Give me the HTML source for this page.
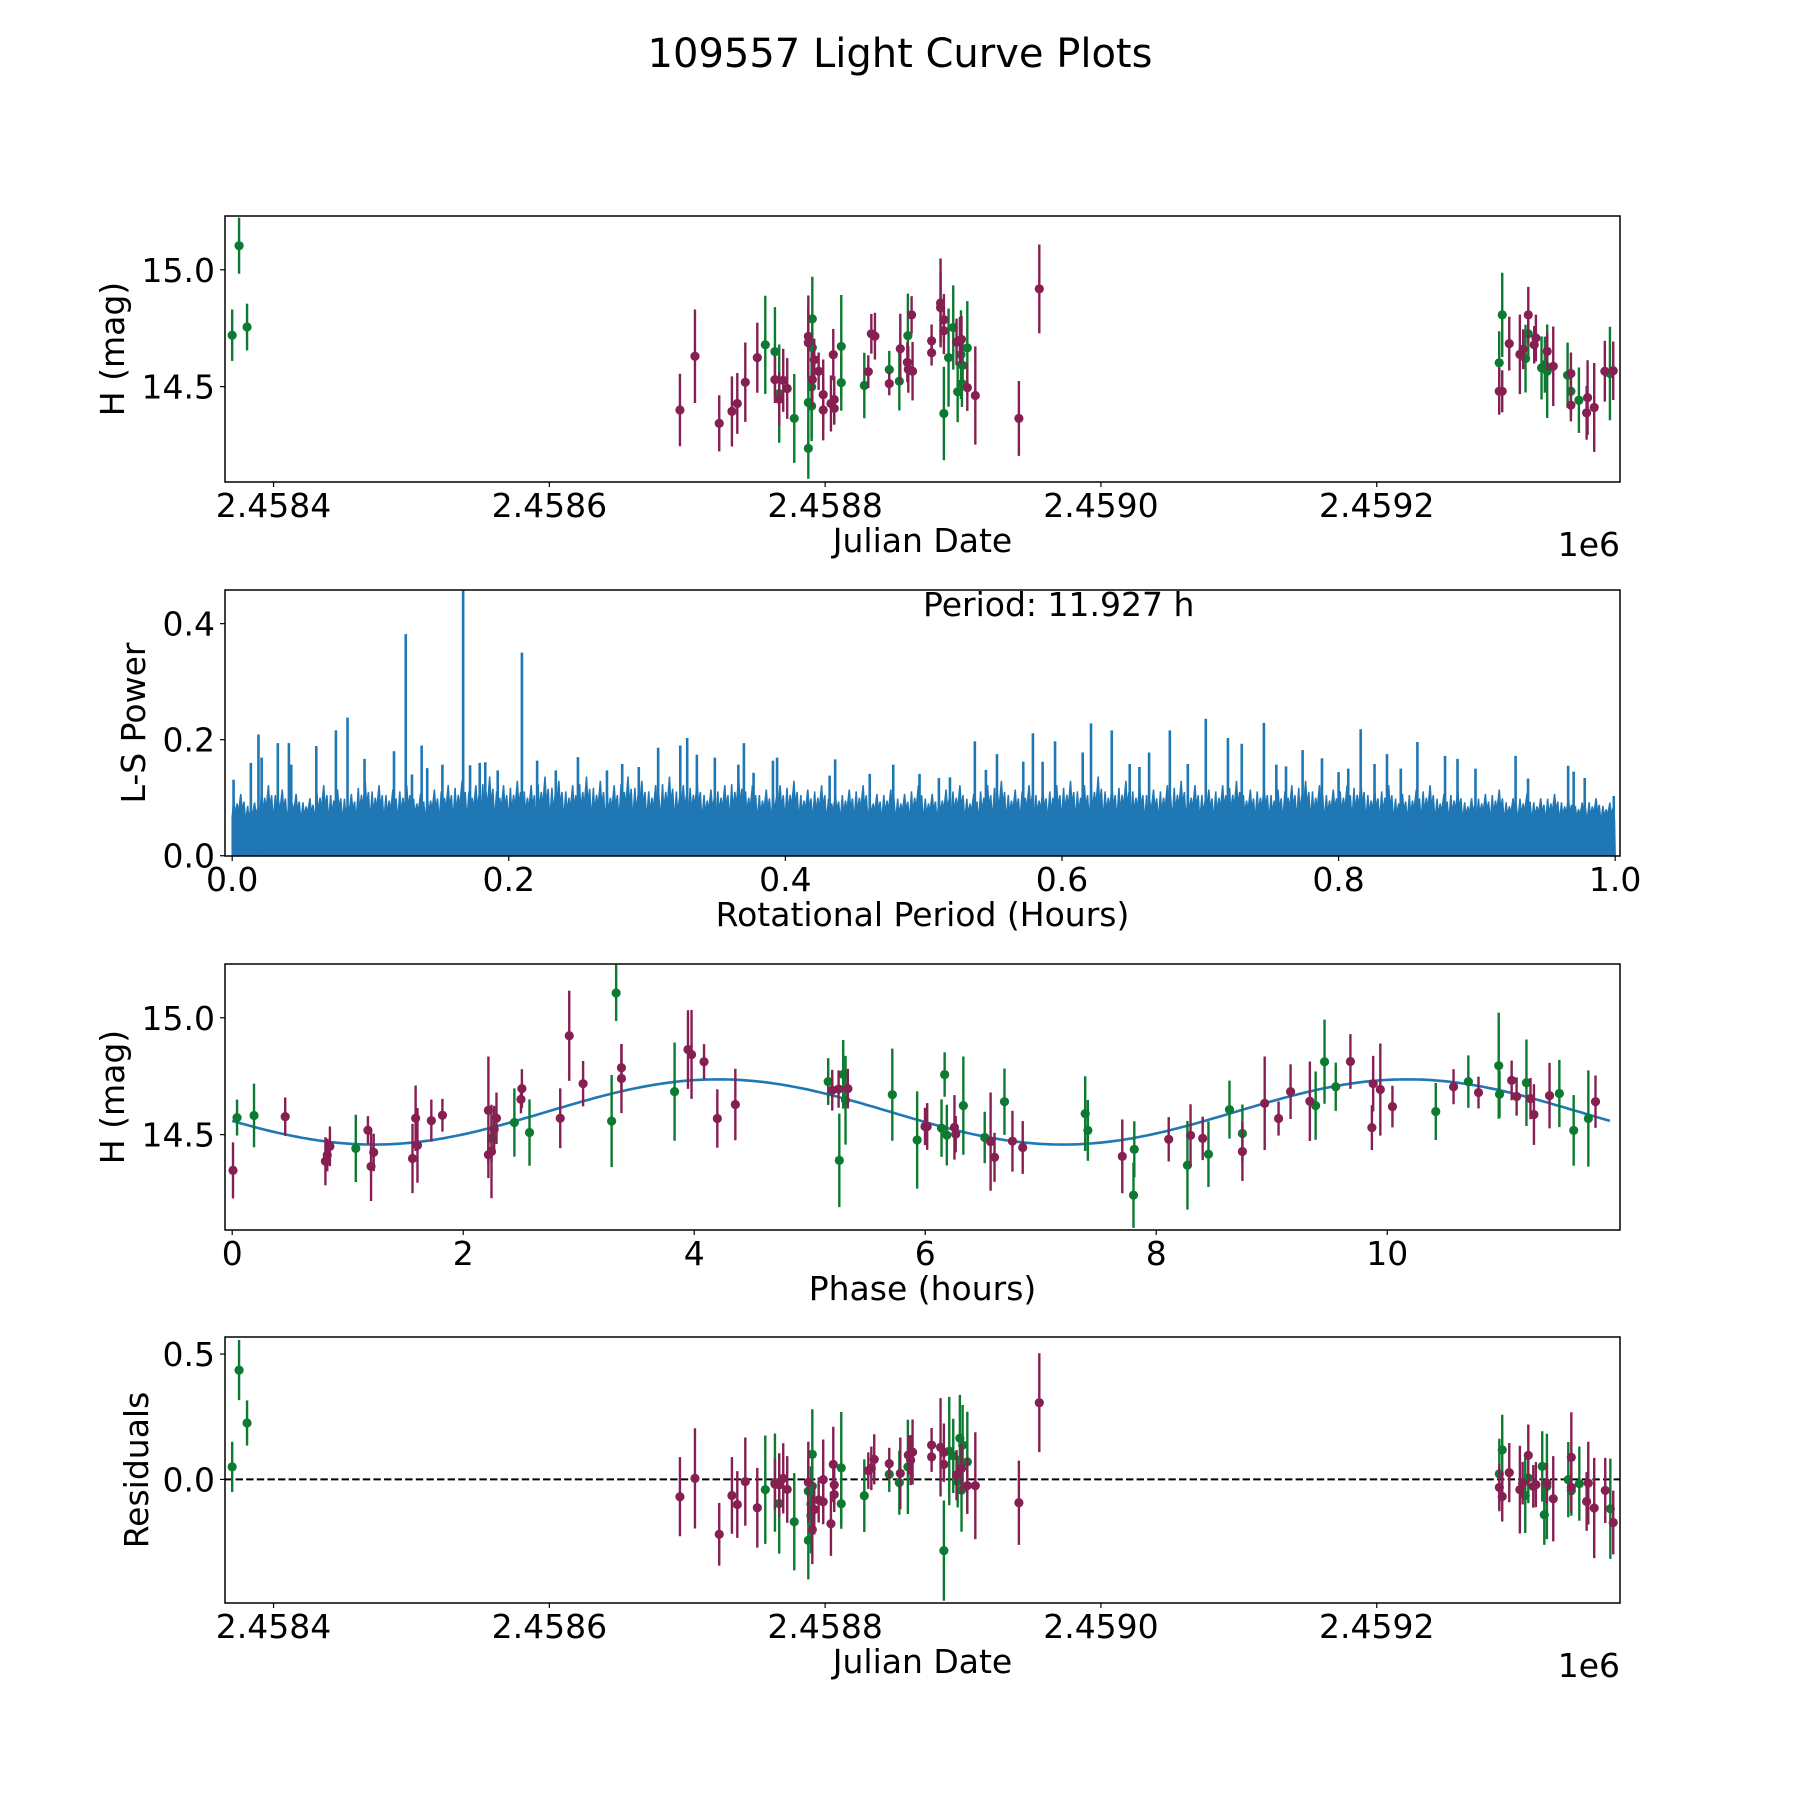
<!DOCTYPE html>
<html><head><meta charset="utf-8"><title>109557 Light Curve Plots</title>
<style>
html,body{margin:0;padding:0;background:#fff;}
svg{display:block;font-family:"DejaVu Sans","Liberation Sans",sans-serif;}
</style></head>
<body>
<svg id="fig" width="1800" height="1800" viewBox="0 0 1800 1800" xmlns="http://www.w3.org/2000/svg">
<rect x="0" y="0" width="1800" height="1800" fill="#fff"/>
<text x="900" y="67" text-anchor="middle" font-size="40" fill="#000">109557 Light Curve Plots</text>
</svg>
<script>
// ===== Panel 1: light curve vs Julian Date (day offset from 2458000) =====
const topDay=[370,375,380.8,
694.7,705.6,723.2,732.4,736.3,742.1,750.8,756.6,763.6,763.6,766.7,766.7,769.6,772.5,777.6,787.8,787.8,787.8,787.8,790.7,790.7,790.7,790.2,790.2,792.1,795.3,798.6,798.6,805.9,804.2,806.6,806.6,811.7,811.7,828.4,831.3,833.5,836.1,846.5,846.5,853.8,854.5,859.6,860.0,860.3,862.7,863.4,877.2,877.2,883.7,883.7,886.1,886.1,886.1,889.5,892.9,895.3,896.1,897.7,898.9,898.5,899.7,899.2,903.1,903.1,908.9,940.5,955.3,
1288.8,1288.8,1291.0,1291.0,1296.1,1303.8,1306.2,1307.9,1309.9,1309.9,1314.2,1315.4,1319.5,1321.9,1323.6,1323.6,1328.0,1338.4,1340.8,1340.8,1340.8,1346.6,1352.2,1352.9,1357.7,1365.4,1369.1,1371.5];
const topH=[14.72,15.103,14.755,
14.40,14.63,14.343,14.394,14.428,14.519,14.624,14.679,14.65,14.53,14.47,14.446,14.527,14.492,14.364,14.715,14.688,14.432,14.236,14.79,14.667,14.53,14.499,14.417,14.615,14.566,14.466,14.40,14.637,14.428,14.445,14.407,14.672,14.517,14.505,14.564,14.726,14.716,14.513,14.573,14.523,14.662,14.604,14.718,14.574,14.807,14.566,14.696,14.645,14.858,14.838,14.786,14.739,14.385,14.624,14.753,14.691,14.478,14.698,14.702,14.637,14.591,14.513,14.666,14.496,14.462,14.364,14.918,
14.602,14.48,14.48,14.807,14.684,14.638,14.66,14.62,14.807,14.726,14.679,14.708,14.58,14.594,14.566,14.651,14.587,14.549,14.556,14.48,14.421,14.442,14.388,14.453,14.411,14.566,14.556,14.568];
const topErr=[0.11,0.12,0.1,
0.155,0.2,0.12,0.15,0.13,0.17,0.15,0.21,0.19,0.1,0.21,0.115,0.135,0.13,0.19,0.175,0.15,0.18,0.13,0.18,0.14,0.12,0.22,0.15,0.09,0.08,0.15,0.13,0.11,0.12,0.1,0.07,0.22,0.12,0.14,0.07,0.085,0.1,0.05,0.08,0.125,0.15,0.085,0.18,0.1,0.08,0.125,0.07,0.055,0.19,0.15,0.11,0.1,0.2,0.21,0.18,0.1,0.13,0.1,0.1,0.19,0.1,0.1,0.2,0.1,0.21,0.16,0.19,
0.135,0.1,0.09,0.18,0.115,0.17,0.085,0.145,0.12,0.1,0.08,0.1,0.135,0.12,0.2,0.08,0.17,0.14,0.09,0.1,0.07,0.14,0.115,0.16,0.19,0.13,0.2,0.125];
const topBand=['g','g','g',
'm','m','m','m','m','m','m','g','g','m','g','m','m','m','g','m','m','g','g','g','g','m','g','g','m','m','m','m','m','m','m','m','g','g','g','m','m','m','m','g','g','m','m','g','m','m','m','m','m','m','m','m','m','g','g','g','m','g','m','m','g','g','g','g','m','m','m','m',
'g','m','m','g','m','m','m','g','m','g','m','m','g','g','g','m','m','g','m','g','m','g','m','m','m','m','g','m'];

// ===== Panel 2: Lomb-Scargle periodogram =====
const lsBaseline=0.057;
const lsEnvelope=[0.09,0.08,0.1,0.095,0.09,0.085,0.1,0.095,0.09,0.105,0.1,0.095,0.1,0.09,0.095,0.1,0.105,0.1,0.11,0.1,0.105,0.1,0.11,0.105,0.1,0.11,0.105,0.1,0.11,0.105,0.1,0.11,0.1,0.105,0.095,0.1,0.11,0.1,0.095,0.1,0.105,0.095,0.1,0.09,0.095,0.1,0.09,0.095,0.09,0.1,0.09,0.095,0.1,0.09,0.1,0.105,0.095,0.1,0.095,0.1,0.105,0.1,0.11,0.1,0.105,0.1,0.095,0.1,0.105,0.1,0.095,0.1,0.105,0.095,0.1,0.095,0.1,0.105,0.1,0.095,0.1,0.105,0.095,0.1,0.09,0.095,0.1,0.09,0.095,0.085,0.09,0.095,0.085,0.09,0.085,0.09,0.085,0.08,0.085,0.08];
const spikePeriod=[0.001,0.0135,0.019,0.0213,0.033,0.041,0.0427,0.0608,0.075,0.0834,0.0957,0.117,0.1255,0.13,0.137,0.141,0.152,0.167,0.172,0.179,0.183,0.192,0.2095,0.2205,0.234,0.25,0.271,0.282,0.294,0.308,0.324,0.329,0.336,0.349,0.366,0.37,0.377,0.391,0.394,0.432,0.436,0.461,0.478,0.497,
0.511,0.519,0.537,0.545,0.553,0.572,0.579,0.586,0.595,0.615,0.621,0.636,0.649,0.656,0.663,0.678,0.691,0.704,0.72,0.73,0.746,0.755,0.762,0.774,0.788,0.8,0.807,0.816,0.826,0.835,0.845,0.857,0.877,0.886,0.899,0.928,0.937,0.966,0.97,0.978,0.999];
const spikePower=[0.131,0.16,0.209,0.169,0.194,0.194,0.157,0.189,0.216,0.238,0.167,0.18,0.382,0.14,0.19,0.151,0.157,0.5,0.156,0.16,0.161,0.147,0.35,0.164,0.147,0.17,0.147,0.158,0.153,0.186,0.19,0.203,0.174,0.169,0.157,0.194,0.143,0.164,0.169,0.138,0.166,0.141,0.157,0.141,
0.134,0.135,0.197,0.148,0.175,0.162,0.211,0.162,0.197,0.178,0.228,0.216,0.158,0.153,0.178,0.216,0.158,0.236,0.203,0.193,0.229,0.157,0.154,0.182,0.168,0.144,0.15,0.218,0.158,0.175,0.15,0.196,0.172,0.167,0.15,0.172,0.133,0.155,0.145,0.134,0.103];
const bestPeriodHours=11.927;

// ===== Panel 3: phase-folded light curve =====
const phaseHr=[0.007,0.042,0.189,0.459,0.807,0.823,0.846,1.07,1.175,1.202,1.225,1.561,1.588,1.604,1.724,1.82,2.218,2.218,2.245,2.245,2.268,2.288,2.443,2.508,2.5,2.574,2.84,2.918,3.038,3.285,3.324,3.37,3.37,3.83,3.946,3.977,4.085,4.2,4.356,5.16,5.195,5.25,5.29,5.31,5.256,5.33,5.715,5.93,5.998,
6.017,6.141,6.168,6.187,6.253,6.264,6.33,6.515,6.566,6.6,6.686,6.755,6.844,7.385,7.408,7.706,7.81,7.803,8.108,8.27,8.297,8.402,8.452,8.634,8.746,8.746,8.939,9.059,9.163,9.33,9.38,9.457,9.554,9.681,9.867,9.878,9.94,10.045,10.42,10.574,10.702,10.79,10.965,10.972,11.077,11.12,11.205,11.24,11.27,11.405,11.49,11.614,11.741,11.803];
const phaseH=[14.347,14.573,14.582,14.577,14.386,14.413,14.45,14.441,14.519,14.364,14.424,14.398,14.57,14.454,14.56,14.583,14.604,14.414,14.428,14.484,14.523,14.57,14.552,14.697,14.651,14.509,14.57,14.923,14.718,14.558,15.106,14.74,14.786,14.684,14.864,14.843,14.812,14.569,14.629,14.727,14.69,14.695,14.758,14.647,14.39,14.697,14.671,14.477,14.535,
14.535,14.528,14.757,14.498,14.531,14.502,14.624,14.488,14.47,14.403,14.641,14.472,14.445,14.59,14.518,14.407,14.437,14.241,14.48,14.369,14.497,14.484,14.416,14.607,14.505,14.428,14.634,14.569,14.684,14.643,14.624,14.812,14.705,14.813,14.53,14.718,14.693,14.62,14.599,14.705,14.727,14.68,14.795,14.673,14.732,14.663,14.722,14.654,14.586,14.667,14.676,14.518,14.569,14.641];
const phaseErr=[0.12,0.077,0.136,0.082,0.103,0.07,0.085,0.144,0.06,0.148,0.08,0.148,0.14,0.16,0.09,0.07,0.23,0.1,0.2,0.1,0.1,0.11,0.146,0.083,0.06,0.142,0.128,0.193,0.097,0.197,0.12,0.148,0.1,0.21,0.168,0.19,0.075,0.125,0.153,0.1,0.087,0.08,0.147,0.19,0.2,0.085,0.197,0.208,0.08,
0.1,0.123,0.095,0.13,0.138,0.078,0.21,0.11,0.21,0.105,0.142,0.13,0.113,0.16,0.13,0.158,0.12,0.14,0.095,0.19,0.133,0.093,0.14,0.124,0.124,0.126,0.2,0.073,0.117,0.17,0.146,0.18,0.103,0.117,0.096,0.119,0.197,0.089,0.122,0.075,0.112,0.068,0.227,0.1,0.085,0.082,0.185,0.088,0.13,0.14,0.144,0.151,0.206,0.112];
const phaseBand=['m','g','g','m','m','m','m','g','m','m','m','m','m','m','m','m','m','m','m','g','m','m','g','m','m','g','m','m','m','g','g','m','m','g','m','m','m','m','m','g','m','m','g','g','g','m','g','g','m',
'm','g','g','g','m','m','g','g','m','m','g','m','m','g','g','m','g','g','m','g','m','m','g','g','g','m','m','m','m','m','g','g','g','m','m','m','m','m','g','m','g','m','g','g','m','m','g','m','m','m','g','g','g','m'];
const modelMean=14.597, modelAmp=0.1395, modelPeakHr=4.21;

// ===== Panel 4: residuals vs Julian Date =====
const resDay=[370,375,380.8,
694.7,705.6,723.2,732.4,736.3,742.1,750.8,756.6,763.6,763.6,766.7,766.7,769.6,772.5,777.6,787.8,787.8,787.8,790.7,790.7,789.7,789.7,790.7,792.1,795.3,798.6,798.6,805.9,804.2,806.6,806.6,811.7,811.7,828.4,831.3,833.5,835.6,846.5,846.5,853.8,854.5,860.0,860.3,862,863.4,877.2,877.2,883.7,886.1,886.1,886.1,890,892.9,895.3,896.1,897.7,898.9,898.9,899.7,903.1,903.1,908.9,940.5,955.3,
1288.9,1288.9,1291.0,1291.0,1296.1,1303.8,1305.8,1307.7,1309.9,1309.9,1313.5,1315.4,1320.0,1321.5,1323.4,1323.4,1328,1338.9,1341.1,1341.1,1341.1,1346.9,1352.2,1353.4,1357.7,1365.7,1369.4,1371.5];
const resVal=[0.05,0.436,0.225,
-0.069,0.004,-0.219,-0.064,-0.1,-0.009,-0.113,-0.041,-0.013,-0.019,-0.096,-0.022,0.004,-0.04,-0.169,-0.012,-0.047,-0.243,0.1,-0.027,-0.098,-0.145,-0.2,-0.12,-0.082,-0.001,-0.089,0.06,-0.177,-0.022,-0.06,0.046,-0.097,-0.065,0.035,0.044,0.08,0.063,0.02,-0.013,0.024,0.05,0.097,0.077,0.109,0.137,0.09,0.128,0.108,0.06,-0.284,0.113,0.094,0.017,-0.009,0.164,0.044,-0.043,0.137,0.07,-0.025,-0.025,-0.093,0.306,
0.022,-0.032,0.118,-0.068,0.027,-0.041,-0.015,-0.064,0.096,0.005,-0.028,-0.021,0.052,-0.141,-0.028,-0.015,-0.077,-0.001,0.088,-0.032,-0.045,-0.017,-0.088,-0.015,-0.114,-0.044,-0.117,-0.172];
const resErr=[0.1,0.12,0.09,
0.158,0.2,0.125,0.153,0.133,0.176,0.159,0.216,0.196,0.1,0.2,0.126,0.14,0.133,0.194,0.162,0.13,0.156,0.18,0.12,0.15,0.15,0.138,0.1,0.09,0.16,0.09,0.15,0.128,0.08,0.07,0.223,0.1,0.145,0.073,0.087,0.1,0.063,0.07,0.128,0.143,0.188,0.078,0.1,0.13,0.068,0.06,0.196,0.115,0.07,0.2,0.216,0.148,0.1,0.103,0.173,0.1,0.166,0.16,0.2,0.113,0.213,0.168,0.197,
0.14,0.095,0.14,0.1,0.118,0.175,0.085,0.15,0.123,0.1,0.085,0.09,0.14,0.12,0.21,0.08,0.17,0.15,0.18,0.1,0.1,0.148,0.117,0.165,0.2,0.13,0.2,0.127];
const resBand=['g','g','g',
'm','m','m','m','m','m','m','g','g','m','g','m','m','m','g','m','g','g','g','g','g','g','m','m','m','m','m','m','m','m','m','g','g','g','m','m','m','m','g','g','m','g','m','m','m','m','m','m','m','m','g','g','g','m','g','g','m','g','g','g','m','m','m','m',
'g','m','g','m','m','m','m','g','m','g','m','m','g','g','g','m','m','g','m','m','g','g','m','m','m','m','g','m'];

// ===== Tick definitions =====
const jdTicks=[400,600,800,1000,1200];
const jdTickLabels=['2.4584','2.4586','2.4588','2.4590','2.4592'];
const hTicks=[14.5,15.0];
const hTickLabels=['14.5','15.0'];
const periodTicks=[0,0.2,0.4,0.6,0.8,1.0];
const periodTickLabels=['0.0','0.2','0.4','0.6','0.8','1.0'];
const powerTicks=[0,0.2,0.4];
const powerTickLabels=['0.0','0.2','0.4'];
const phaseTicks=[0,2,4,6,8,10];
const phaseTickLabels=['0','2','4','6','8','10'];
const resTicks=[0,0.5];
const resTickLabels=['0.0','0.5'];

// ===== Rendering =====
const NS='http://www.w3.org/2000/svg';
const svg=document.getElementById('fig');
const L=225,R=1620,PH=266;
const COL={g:'#0c7a30',m:'#861f52'};
function mk(tag,attrs,parent){const e=document.createElementNS(NS,tag);for(const k in attrs)e.setAttribute(k,attrs[k]);(parent||svg).appendChild(e);return e;}
function lin(d0,d1,r0,r1){return v=>r0+(v-d0)/(d1-d0)*(r1-r0);}

function panel(name,top,xd,yd,xt,xtl,yt,ytl,xlabel,ylabel,ylabelX){
  const g=mk('g',{});
  
  
  const x=lin(xd[0],xd[1],L,R), y=lin(yd[0],yd[1],top+PH,top);
  const cid='clip-'+name;
  const cp=mk('clipPath',{id:cid},g);mk('rect',{x:L,y:top,width:R-L,height:PH},cp);
  const plot=mk('g',{'clip-path':'url(#'+cid+')'},g);
  
  
  const frame=mk('rect',{x:L,y:top,width:R-L,height:PH,fill:'none',stroke:'#000','stroke-width':1.5},g);
  
  
  xt.forEach((v,i)=>{const px=x(v);
    mk('line',{x1:px,x2:px,y1:top+PH,y2:top+PH+5,stroke:'#000','stroke-width':1.2},g);
    const t=mk('text',{x:px,y:top+PH+35,'text-anchor':'middle','font-size':33},g);t.textContent=xtl[i];
    
    });
  yt.forEach((v,i)=>{const py=y(v);
    mk('line',{x1:L-5,x2:L,y1:py,y2:py,stroke:'#000','stroke-width':1.2},g);
    const t=mk('text',{x:L-10,y:py+12,'text-anchor':'end','font-size':33},g);t.textContent=ytl[i];
    
    });
  const xl=mk('text',{x:(L+R)/2,y:top+PH+70,'text-anchor':'middle','font-size':33},g);xl.textContent=xlabel;
  
  
  const yc=top+PH/2;
  const yl=mk('text',{x:ylabelX,y:yc,'text-anchor':'middle','font-size':33,transform:'rotate(-90 '+ylabelX+' '+yc+')'},g);yl.textContent=ylabel;
  
  
  return {x,y,plot,g};
}
function errPoints(p,xs,ys,es,bands,nm){
  ['g','m'].forEach(b=>{
    const sg=mk('g',{},p.plot);
    
    
    xs.forEach((xv,i)=>{ if(bands[i]!==b)return;
      const px=p.x(xv),py=p.y(ys[i]);
      const ln=mk('line',{x1:px,x2:px,y1:p.y(ys[i]+es[i]),y2:p.y(ys[i]-es[i]),stroke:COL[b],'stroke-width':2.4},sg);
      
      
      const c=mk('circle',{cx:px,cy:py,r:4.6,fill:COL[b]},sg);
      
      
    });
  });
}
function offsetText(top){
  const t=mk('text',{x:R,y:top+PH+74,'text-anchor':'end','font-size':33});t.textContent='1e6';
  
  
}

// Panel 1
const p1=panel('light-curve-panel',216,[364.8,1376.4],[14.092,15.23],jdTicks,jdTickLabels,hTicks,hTickLabels,'Julian Date','H (mag)',124);
errPoints(p1,topDay,topH,topErr,topBand,'light-curve');
offsetText(216);

// Panel 2
const p2=panel('periodogram-panel',590,[-0.0052,1.0035],[-0.0005,0.458],periodTicks,periodTickLabels,powerTicks,powerTickLabels,'Rotational Period (Hours)','L-S Power',145);
(function(){
  const base=p2.y(0);
  let d='M'+p2.x(0)+' '+base;
  lsEnvelope.forEach((v,i)=>{
    const x0=i/lsEnvelope.length, w=1/lsEnvelope.length;
    d+=' L'+p2.x(x0)+' '+p2.y(lsBaseline+(v-lsBaseline)*0.3);
    d+=' L'+p2.x(x0+w*0.12)+' '+p2.y(lsBaseline+(v-lsBaseline)*1.25);
    d+=' L'+p2.x(x0+w*0.2)+' '+p2.y(lsBaseline+(v-lsBaseline)*0.4);
    d+=' L'+p2.x(x0+w*0.35)+' '+p2.y(v);
    d+=' L'+p2.x(x0+w*0.45)+' '+p2.y(lsBaseline+(v-lsBaseline)*0.5);
    d+=' L'+p2.x(x0+w*0.62)+' '+p2.y(lsBaseline+(v-lsBaseline)*1.5);
    d+=' L'+p2.x(x0+w*0.72)+' '+p2.y(lsBaseline+(v-lsBaseline)*0.6);
    d+=' L'+p2.x(x0+w*0.85)+' '+p2.y(lsBaseline+(v-lsBaseline)*1.1);
    d+=' L'+p2.x(x0+w*0.95)+' '+p2.y(lsBaseline+(v-lsBaseline)*0.2);
  });
  d+=' L'+p2.x(1)+' '+base+' Z';
  const a=mk('path',{d:d,fill:'#1f77b4',stroke:'#1f77b4','stroke-width':1.5,'stroke-linejoin':'bevel'},p2.plot);
  
  
  spikePeriod.forEach((v,i)=>{
    const l=mk('line',{x1:p2.x(v),x2:p2.x(v),y1:base,y2:p2.y(spikePower[i]),stroke:'#1f77b4','stroke-width':2.6},p2.plot);
    
    
  });
  const t=mk('text',{x:923,y:616,'font-size':33});t.textContent='Period: '+bestPeriodHours.toFixed(3)+' h';
  
  
})();

// Panel 3
const p3=panel('phase-panel',964,[-0.0623,12.015],[14.092,15.23],phaseTicks,phaseTickLabels,hTicks,hTickLabels,'Phase (hours)','H (mag)',124);
(function(){
  let d='';
  for(let k=0;k<=300;k++){const t=bestPeriodHours*k/300;
    const h=modelMean+modelAmp*Math.cos(2*Math.PI*(t-modelPeakHr)/(bestPeriodHours/2));
    d+=(k?' L':'M')+p3.x(t).toFixed(1)+' '+p3.y(h).toFixed(1);}
  const c=mk('path',{d:d,fill:'none',stroke:'#1f77b4','stroke-width':2.6},p3.plot);
  
  
})();
errPoints(p3,phaseHr,phaseH,phaseErr,phaseBand,'phase');

// Panel 4
const p4=panel('residuals-panel',1337,[364.8,1376.4],[-0.493,0.568],jdTicks,jdTickLabels,resTicks,resTickLabels,'Julian Date','Residuals',148);
(function(){
  const z=mk('line',{x1:L,x2:R,y1:p4.y(0),y2:p4.y(0),stroke:'#000','stroke-width':2,'stroke-dasharray':'7.4 3.2'},p4.plot);
  
  
})();
errPoints(p4,resDay,resVal,resErr,resBand,'residuals');
offsetText(1337);
</script>
</body></html>
